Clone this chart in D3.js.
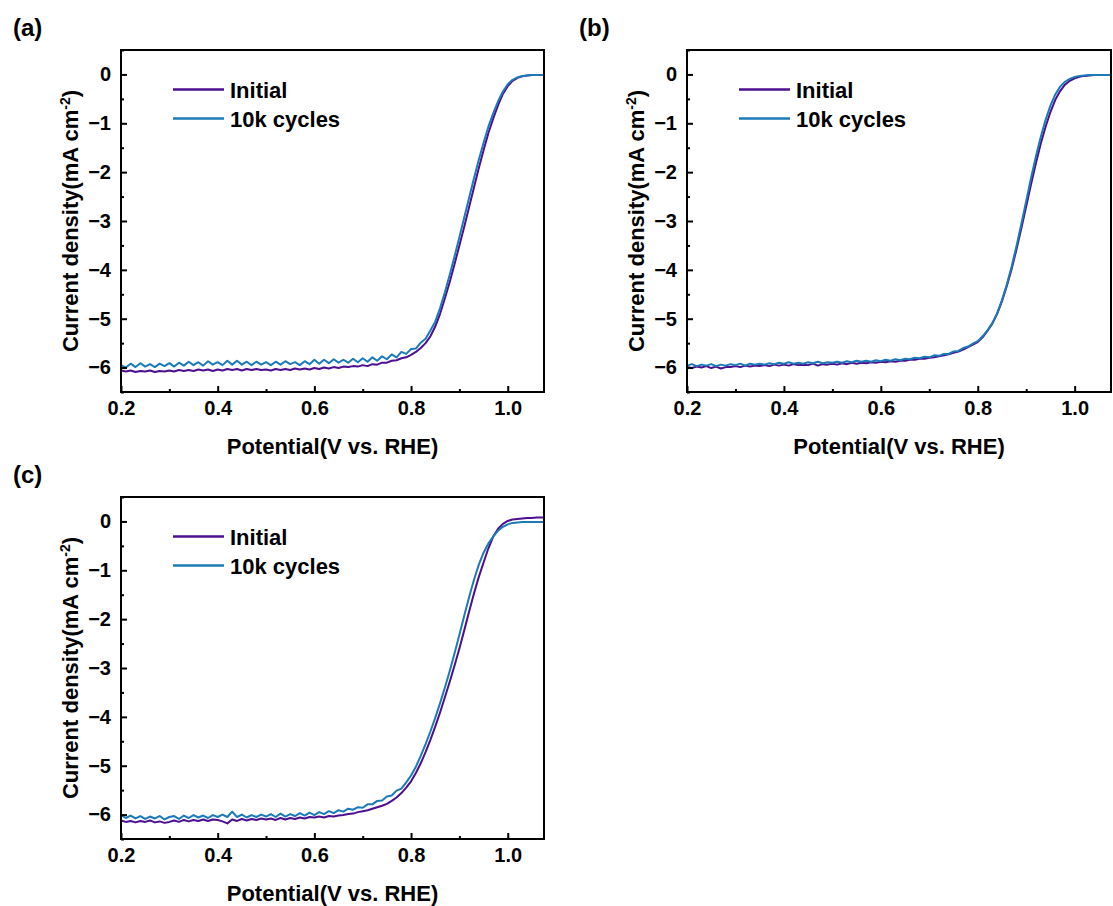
<!DOCTYPE html>
<html>
<head>
<meta charset="utf-8">
<script src="https://cdn.jsdelivr.net/npm/d3@7"></script>
<style>
  body { margin: 0; background: #fff; }
  text { font-family: "Liberation Sans", Arial, sans-serif; font-weight: bold; fill: #000; }
</style>
</head>
<body>
<svg id="fig" width="1113" height="906"></svg>
<script>
// potential grid (V vs RHE), shared by every curve
const potential = [
  0.20,0.21,0.22,0.23,0.24,0.25,0.26,0.27,0.28,0.29,
  0.30,0.31,0.32,0.33,0.34,0.35,0.36,0.37,0.38,0.39,
  0.40,0.41,0.42,0.43,0.44,0.45,0.46,0.47,0.48,0.49,
  0.50,0.51,0.52,0.53,0.54,0.55,0.56,0.57,0.58,0.59,
  0.60,0.61,0.62,0.63,0.64,0.65,0.66,0.67,0.68,0.69,
  0.70,0.71,0.72,0.73,0.74,0.75,0.76,0.77,0.78,0.79,
  0.80,0.81,0.82,0.83,0.84,0.85,0.86,0.87,0.88,0.89,
  0.90,0.91,0.92,0.93,0.94,0.95,0.96,0.97,0.98,0.99,
  1.00,1.01,1.02,1.03,1.04,1.05,1.06,1.07,1.075];

// current density (mA cm-2)
const aInitial = [
  -6.06,-6.08,-6.06,-6.09,-6.07,-6.08,-6.06,-6.09,-6.07,-6.08,
  -6.06,-6.08,-6.05,-6.07,-6.05,-6.07,-6.04,-6.06,-6.04,-6.07,
  -6.04,-6.06,-6.03,-6.05,-6.03,-6.06,-6.03,-6.05,-6.03,-6.05,
  -6.04,-6.06,-6.03,-6.05,-6.03,-6.05,-6.02,-6.04,-6.02,-6.04,
  -6.01,-6.03,-6.00,-6.02,-5.99,-6.01,-5.98,-5.99,-5.97,-5.98,
  -5.95,-5.97,-5.93,-5.94,-5.90,-5.90,-5.86,-5.85,-5.81,-5.79,
  -5.74,-5.68,-5.60,-5.50,-5.36,-5.16,-4.90,-4.58,-4.25,-3.88,
  -3.50,-3.12,-2.72,-2.32,-1.92,-1.55,-1.20,-0.90,-0.63,-0.40,
  -0.24,-0.13,-0.07,-0.04,-0.02,-0.01,-0.01,-0.01,-0.01];
const a10k = [
  -5.95,-6.00,-5.92,-5.99,-5.91,-5.98,-5.93,-5.99,-5.92,-5.97,
  -5.91,-5.98,-5.90,-5.96,-5.88,-5.95,-5.89,-5.96,-5.87,-5.94,
  -5.89,-5.95,-5.86,-5.94,-5.86,-5.94,-5.88,-5.95,-5.88,-5.94,
  -5.89,-5.95,-5.88,-5.94,-5.87,-5.93,-5.89,-5.95,-5.87,-5.93,
  -5.84,-5.92,-5.84,-5.91,-5.83,-5.90,-5.84,-5.90,-5.82,-5.89,
  -5.81,-5.88,-5.79,-5.86,-5.77,-5.83,-5.73,-5.79,-5.68,-5.72,
  -5.62,-5.61,-5.49,-5.41,-5.24,-5.06,-4.78,-4.46,-4.10,-3.72,
  -3.33,-2.93,-2.53,-2.13,-1.75,-1.40,-1.07,-0.79,-0.55,-0.35,
  -0.20,-0.11,-0.06,-0.03,-0.02,-0.01,-0.01,-0.01,-0.01];

const bInitial = [
  -5.99,-6.01,-5.98,-6.00,-5.97,-6.01,-5.98,-6.02,-5.99,-5.99,
  -5.97,-5.99,-5.96,-5.98,-5.96,-5.97,-5.95,-5.97,-5.94,-5.96,
  -5.94,-5.96,-5.93,-5.95,-5.94,-5.95,-5.92,-5.96,-5.93,-5.94,
  -5.92,-5.94,-5.91,-5.93,-5.90,-5.92,-5.90,-5.91,-5.89,-5.90,
  -5.88,-5.89,-5.87,-5.88,-5.86,-5.86,-5.84,-5.84,-5.82,-5.82,
  -5.80,-5.79,-5.77,-5.75,-5.73,-5.70,-5.67,-5.63,-5.58,-5.53,
  -5.48,-5.38,-5.25,-5.10,-4.90,-4.64,-4.33,-3.98,-3.58,-3.15,
  -2.70,-2.25,-1.82,-1.42,-1.07,-0.77,-0.52,-0.34,-0.21,-0.13,
  -0.08,-0.05,-0.03,-0.02,-0.01,-0.01,-0.01,-0.01,-0.01];
const b10k = [
  -5.96,-5.93,-5.97,-5.94,-5.96,-5.93,-5.97,-5.94,-5.96,-5.93,
  -5.95,-5.92,-5.96,-5.92,-5.94,-5.92,-5.94,-5.91,-5.93,-5.90,
  -5.92,-5.89,-5.92,-5.90,-5.92,-5.89,-5.91,-5.88,-5.91,-5.89,
  -5.90,-5.88,-5.90,-5.87,-5.89,-5.86,-5.88,-5.86,-5.88,-5.85,
  -5.87,-5.84,-5.86,-5.83,-5.85,-5.82,-5.83,-5.80,-5.81,-5.78,
  -5.79,-5.75,-5.76,-5.72,-5.72,-5.67,-5.66,-5.60,-5.57,-5.51,
  -5.46,-5.36,-5.24,-5.09,-4.89,-4.62,-4.30,-3.93,-3.51,-3.06,
  -2.59,-2.12,-1.68,-1.28,-0.93,-0.64,-0.41,-0.25,-0.15,-0.09,
  -0.05,-0.03,-0.02,-0.01,-0.01,-0.01,-0.01,-0.01,-0.01];

const cInitial = [
  -6.12,-6.15,-6.13,-6.16,-6.13,-6.15,-6.12,-6.16,-6.14,-6.17,
  -6.15,-6.12,-6.15,-6.11,-6.14,-6.11,-6.13,-6.10,-6.13,-6.10,
  -6.11,-6.14,-6.18,-6.10,-6.13,-6.09,-6.12,-6.09,-6.11,-6.08,
  -6.10,-6.08,-6.11,-6.07,-6.10,-6.07,-6.09,-6.06,-6.08,-6.05,
  -6.06,-6.04,-6.06,-6.03,-6.04,-6.02,-6.01,-5.99,-5.98,-5.95,
  -5.93,-5.91,-5.88,-5.85,-5.82,-5.78,-5.72,-5.65,-5.56,-5.45,
  -5.32,-5.15,-4.95,-4.72,-4.47,-4.20,-3.91,-3.60,-3.28,-2.95,
  -2.60,-2.23,-1.85,-1.48,-1.14,-0.84,-0.55,-0.31,-0.15,-0.05,
  0.01,0.04,0.05,0.06,0.07,0.07,0.08,0.08,0.08];
const c10k = [
  -6.01,-6.07,-6.02,-6.08,-6.03,-6.09,-6.04,-6.08,-6.03,-6.10,
  -6.05,-6.03,-6.09,-6.02,-6.07,-6.01,-6.06,-6.02,-6.07,-6.01,
  -6.05,-6.00,-6.05,-5.94,-6.05,-6.00,-6.06,-6.01,-6.05,-6.00,
  -6.04,-5.99,-6.05,-5.98,-6.04,-5.99,-6.03,-5.97,-6.02,-5.96,
  -6.01,-5.95,-5.99,-5.93,-5.97,-5.91,-5.94,-5.88,-5.90,-5.85,
  -5.86,-5.79,-5.79,-5.72,-5.71,-5.63,-5.61,-5.51,-5.47,-5.34,
  -5.20,-5.02,-4.80,-4.56,-4.30,-4.02,-3.72,-3.40,-3.06,-2.70,
  -2.32,-1.93,-1.55,-1.20,-0.89,-0.64,-0.45,-0.31,-0.19,-0.11,
  -0.06,-0.03,-0.02,-0.01,-0.01,-0.01,-0.01,-0.01,-0.01];

const seriesNames = ['Initial', '10k cycles'];
const colors = ['#4b0f8f', '#1c7ab8'];
const panelLabels = ['(a)', '(b)', '(c)'];
const xTicks = [0.2, 0.4, 0.6, 0.8, 1.0];
const xMinor = [0.3, 0.5, 0.7, 0.9];
const yTicks = [0, -1, -2, -3, -4, -5, -6];
const yMinor = [0.5, -0.5, -1.5, -2.5, -3.5, -4.5, -5.5, -6.5];

// where each panel sits on the page
const layout = [
  {left: 121, top: 50,  width: 423, series: [aInitial, a10k]},
  {left: 687, top: 50,  width: 424, series: [bInitial, b10k]},
  {left: 121, top: 497, width: 423, series: [cInitial, c10k]}
];
const plotH = 342;

const svg = d3.select('#fig');
svg.append('rect').attr('width', 1113).attr('height', 906).attr('fill', '#fff');

layout.forEach((p, i) => {
  const g = svg.append('g').attr('transform', `translate(${p.left},${p.top})`);

  const x = d3.scaleLinear().domain([0.2, 1.075]).range([0, p.width]);
  const y = d3.scaleLinear().domain([-6.5, 0.5]).range([plotH, 0]);

  // curves, Initial first so 10k cycles sits on top
  const line = d3.line()
    .x((d, k) => x(potential[k]))
    .y(d => y(d));

  g.selectAll('path.curve')
    .data(p.series)
    .enter().append('path')
      .attr('class', 'curve')
      .attr('d', d => line(d))
      .attr('fill', 'none')
      .attr('stroke', (d, k) => colors[k])
      .attr('stroke-width', 2)
      .attr('stroke-linejoin', 'round');

  // axes with ticks pointing inward
  g.append('g').attr('transform', `translate(0,${plotH})`)
    .call(d3.axisBottom(x).tickValues(xTicks).tickSize(-6).tickPadding(9).tickFormat(d3.format('.1f')));
  g.append('g').attr('transform', `translate(0,${plotH})`)
    .call(d3.axisBottom(x).tickValues(xMinor).tickSize(-3).tickFormat(''));
  g.append('g')
    .call(d3.axisLeft(y).tickValues(yTicks).tickSize(-6).tickPadding(10).tickFormat(d3.format('d')));
  g.append('g')
    .call(d3.axisLeft(y).tickValues(yMinor).tickSize(-3).tickFormat(''));

  g.selectAll('.domain').remove();
  g.selectAll('.tick line').attr('stroke', '#000').attr('stroke-width', 2);
  g.selectAll('.tick text').style('font-size', '20px');

  g.append('rect')
    .attr('width', p.width).attr('height', plotH)
    .attr('fill', 'none').attr('stroke', '#000').attr('stroke-width', 2);

  // axis titles
  g.append('text')
    .attr('x', p.width / 2).attr('y', 404)
    .attr('text-anchor', 'middle')
    .style('font-size', '22px')
    .text('Potential(V vs. RHE)');

  const yt = g.append('text')
    .attr('transform', `translate(-43,${plotH / 2}) rotate(-90)`)
    .attr('text-anchor', 'middle')
    .style('font-size', '22px');
  yt.append('tspan').text('Current density(mA cm');
  yt.append('tspan').attr('dy', -8).style('font-size', '14px').text('-2');
  yt.append('tspan').attr('dy', 8).text(')');

  // legend
  const leg = g.selectAll('g.leg')
    .data(seriesNames)
    .enter().append('g')
      .attr('class', 'leg')
      .attr('transform', (d, k) => `translate(52,${39.5 + k * 29})`);
  leg.append('line')
    .attr('x1', 0).attr('x2', 51)
    .attr('stroke', (d, k) => colors[k]).attr('stroke-width', 2.5);
  leg.append('text')
    .attr('x', 57).attr('y', 8)
    .style('font-size', '22px')
    .text(d => d);

  // panel letter
  svg.append('text')
    .attr('x', p.left - 108).attr('y', p.top - 14)
    .style('font-size', '24px')
    .text(panelLabels[i]);
});
</script>
</body>
</html>
